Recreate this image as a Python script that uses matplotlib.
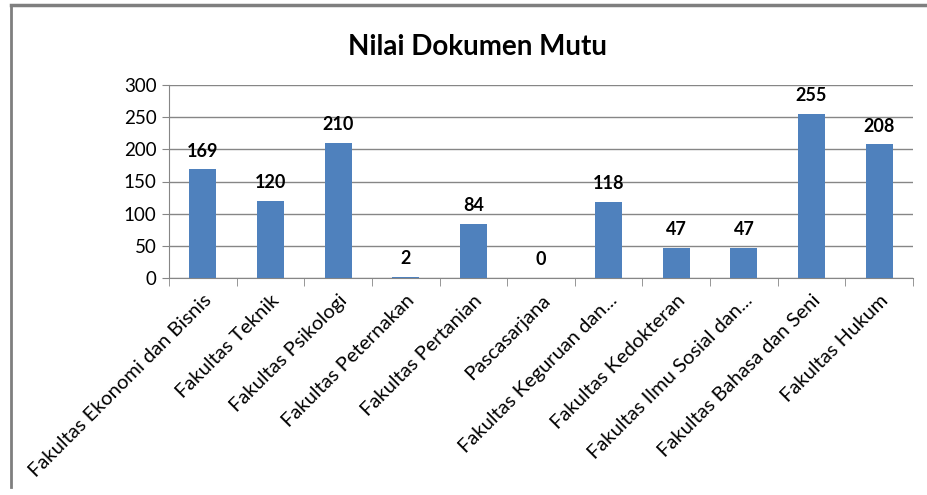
import matplotlib.pyplot as plt
from matplotlib.lines import Line2D

categories = [
    'Fakultas Ekonomi dan Bisnis', 'Fakultas Teknik', 'Fakultas Psikologi',
    'Fakultas Peternakan', 'Fakultas Pertanian', 'Pascasarjana',
    'Fakultas Keguruan dan...', 'Fakultas Kedokteran',
    'Fakultas Ilmu Sosial dan...', 'Fakultas Bahasa dan Seni', 'Fakultas Hukum',
]
values = [169, 120, 210, 2, 84, 0, 118, 47, 47, 255, 208]
yticks = [0, 50, 100, 150, 200, 250, 300]

plt.rcParams['font.family'] = ['Lato', 'DejaVu Sans']

fig = plt.figure(figsize=(9.27, 4.95), dpi=100)
ax = fig.add_axes([169 / 927, 1 - 278 / 495, (913 - 169) / 927, (278 - 85) / 495])

x = list(range(len(categories)))
bars = ax.bar(x, values, width=0.4, color='#4F81BD', zorder=3)
for b, v in zip(bars, values):
    ax.text(b.get_x() + b.get_width() / 2, v + 15, str(v), ha='center', va='bottom',
            fontsize=13, fontweight='bold')

ax.set_xlim(-0.5, len(categories) - 0.5)
ax.set_ylim(0, 300)
ax.set_yticks(yticks)
ax.tick_params(axis='y', labelsize=13.5, length=5, color='#868686', pad=4)
ax.yaxis.grid(True, color='#868686', linewidth=1, zorder=0)

ax.set_xticks(x)
ax.set_xticklabels(categories, rotation=45, ha='right', rotation_mode='anchor', fontsize=14.5)
ax.set_xticks([i - 0.5 for i in range(len(categories) + 1)], minor=True)
ax.tick_params(axis='x', which='major', length=0, pad=10)
ax.tick_params(axis='x', which='minor', length=6, color='#868686')

for s in ['top', 'right']:
    ax.spines[s].set_visible(False)
for s in ['left', 'bottom']:
    ax.spines[s].set_color('#868686')

fig.text(0.515, 1 - 47 / 495, 'Nilai Dokumen Mutu', ha='center', va='center',
         fontsize=20, fontweight='bold')

# chart border (top and left visible)
fig.add_artist(Line2D([11 / 927, 1], [1 - 5 / 495, 1 - 5 / 495], color='#7f7f7f', lw=2.5,
                      transform=fig.transFigure))
fig.add_artist(Line2D([11 / 927, 11 / 927], [1 - 5 / 495, 1 - 487 / 495], color='#7f7f7f', lw=2,
                      transform=fig.transFigure))

fig.savefig('out.png', dpi=100)
